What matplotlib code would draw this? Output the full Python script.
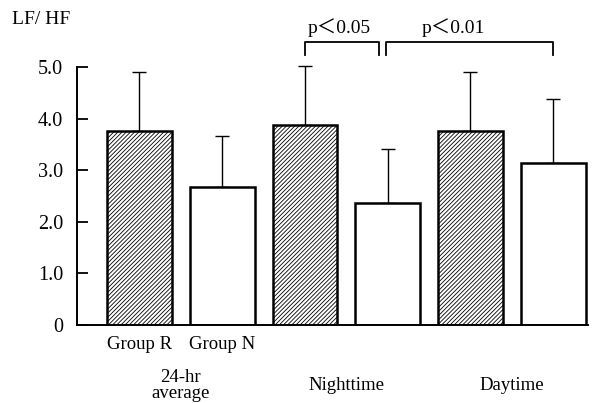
import matplotlib.pyplot as plt
import numpy as np

# data
periods = ['24-hr\naverage', 'Nighttime', 'Daytime']
groups = ['Group R', 'Group N']
group_r = [3.76, 3.88, 3.77]
group_r_sd = [1.14, 1.15, 1.13]
group_n = [2.68, 2.37, 3.14]
group_n_sd = [0.98, 1.04, 1.24]
yticks = [0, 1.0, 2.0, 3.0, 4.0, 5.0]
ytick_labels = ['0', '1.0', '2.0', '3.0', '4.0', '5.0']

plt.rcParams['font.family'] = ['Liberation Serif', 'Noto Sans CJK JP']
plt.rcParams['hatch.linewidth'] = 0.6

fig = plt.figure(figsize=(5.95, 4.03), dpi=100)
ax = fig.add_axes([77 / 595, 78 / 403, 511 / 595, 288.7 / 403])

x_r = np.arange(len(periods)) * 2
x_n = x_r + 1
width = 0.78

ax.bar(x_r, group_r, width, color='white', edgecolor='black', hatch='////////',
       linewidth=1.8, zorder=2)
ax.bar(x_n, group_n, width, color='white', edgecolor='black',
       linewidth=1.8, zorder=2)

# upper error bars only
ax.errorbar(x_r, group_r, yerr=[np.zeros(3), group_r_sd], fmt='none',
            ecolor='black', elinewidth=1, capsize=4.8, capthick=1, zorder=1)
ax.errorbar(x_n, group_n, yerr=[np.zeros(3), group_n_sd], fmt='none',
            ecolor='black', elinewidth=1, capsize=4.8, capthick=1, zorder=1)

ax.set_xlim(-0.755, 5.42)
ax.set_ylim(0, 5.6)
ax.set_yticks(yticks)
ax.set_yticklabels(ytick_labels)
ax.tick_params(axis='y', direction='in', length=8, width=1.3, pad=10,
               labelsize=14.5)
ax.set_xticks([])
ax.spines['top'].set_visible(False)
ax.spines['right'].set_visible(False)
ax.spines['left'].set_bounds(0, 5.0)
for s in ['left', 'bottom']:
    ax.spines[s].set_linewidth(1.4)

# group labels under the first pair
for xi, g in zip([x_r[0], x_n[0]], groups):
    ax.text(xi, -0.38, g, ha='center', va='center', fontsize=13.5)

# period labels
for xi, p in zip((x_r + x_n) / 2, periods):
    ax.text(xi, -1.17, p, ha='center', va='center', fontsize=13.5,
            linespacing=0.9)

# significance brackets
def bracket(x0, x1, label, tx):
    y_top, y_bot = 5.49, 5.24
    ax.plot([x0, x0, x1, x1], [y_bot, y_top, y_top, y_bot], color='black',
            lw=1.3, clip_on=False)
    ax.text(tx, 5.77, label, ha='center', va='center', fontsize=14)

bracket(x_r[1], x_n[1] - 0.11, 'p＜0.05', 2.41)
bracket(x_n[1] - 0.02, x_n[2], 'p＜0.01', 3.79)

fig.text(12 / 595, 1 - 20 / 403, 'LF/ HF', ha='left', va='center', fontsize=14)

fig.savefig('out.png', dpi=100)
